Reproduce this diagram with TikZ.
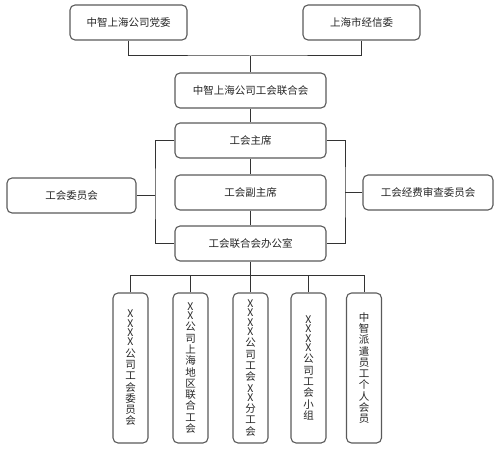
\documentclass[tikz,border=0pt]{standalone}
\usepackage{fontspec}
\newfontfamily\cjk{Noto Sans CJK SC}
\begin{document}
\begin{tikzpicture}[x=1pt,y=-1pt,
  box/.style={draw=boxgray,line width=1.1pt,rounded corners=5pt,fill=white,
    text=black!85,inner sep=0pt,font=\cjk\fontsize{10.5}{11.3}\selectfont},
  hbox/.style={box,minimum height=35pt},
  vbox/.style={box,minimum width=35pt,minimum height=150pt,align=center},
  conn/.style={draw=black!80,line width=1pt}]
\definecolor{boxgray}{HTML}{5A5A5A}
\useasboundingbox (0,0) rectangle (500,452);
\node[hbox,minimum width=117pt] (pw) at (128.5,22.5) {中智上海公司党委};
\node[hbox,minimum width=117pt] (jx) at (361.5,22.5) {上海市经信委};
\node[hbox,minimum width=151pt] (lh) at (250.5,90.5) {中智上海公司工会联合会};
\node[hbox,minimum width=151pt] (zx) at (250.5,140.5) {工会主席};
\node[hbox,minimum width=151pt] (fz) at (250.5,192.5) {工会副主席};
\node[hbox,minimum width=151pt] (bg) at (250.5,243.5) {工会联合会办公室};
\node[hbox,minimum width=129pt] (wy) at (71.5,195.5) {工会委员会};
\node[hbox,minimum width=130pt] (sc) at (428,192.5) {工会经费审查委员会};
\node[vbox] (a) at (130.5,368) {X\\[-2pt]X\\[-2pt]X\\[-2pt]X\\公\\司\\工\\会\\委\\员\\会};
\node[vbox] (b) at (190.5,368) {X\\[-2pt]X\\公\\司\\上\\海\\地\\区\\联\\合\\工\\会};
\node[vbox] (c) at (250.5,368) {X\\[-2pt]X\\[-2pt]X\\[-2pt]X\\公\\司\\工\\会\\X\\[-2pt]X\\分\\工\\会};
\node[vbox] (d) at (308.5,368) {X\\[-2pt]X\\[-2pt]X\\[-2pt]X\\公\\司\\工\\会\\小\\组};
\node[vbox] (e) at (364,368) {中\\智\\派\\遣\\员\\工\\个\\人\\会\\员};
\coordinate (top) at (250.5,56);
\coordinate (lbr) at (155,195.5);
\coordinate (rbr) at (345,192.5);
\coordinate (bot) at (250.5,275);
\draw[conn] (pw.south) |- (top) -| (jx.south);
\draw[conn] (top) -- (lh.north);
\draw[conn] (lh.south) -- (zx.north);
\draw[conn] (zx.south) -- (fz.north);
\draw[conn] (fz.south) -- (bg.north);
\draw[conn] (zx.west) -| (lbr) |- (bg.west);
\draw[conn] (wy.east) -- (lbr);
\draw[conn] (zx.east) -| (rbr) |- (bg.east);
\draw[conn] (sc.west) -- (rbr);
\draw[conn] (bg.south) -- (c.north);
\draw[conn] (a.north) -- (a.north|-bot) -- (e.north|-bot) -- (e.north);
\draw[conn] (b.north) -- (b.north|-bot);
\draw[conn] (d.north) -- (d.north|-bot);
\end{tikzpicture}
\end{document}
